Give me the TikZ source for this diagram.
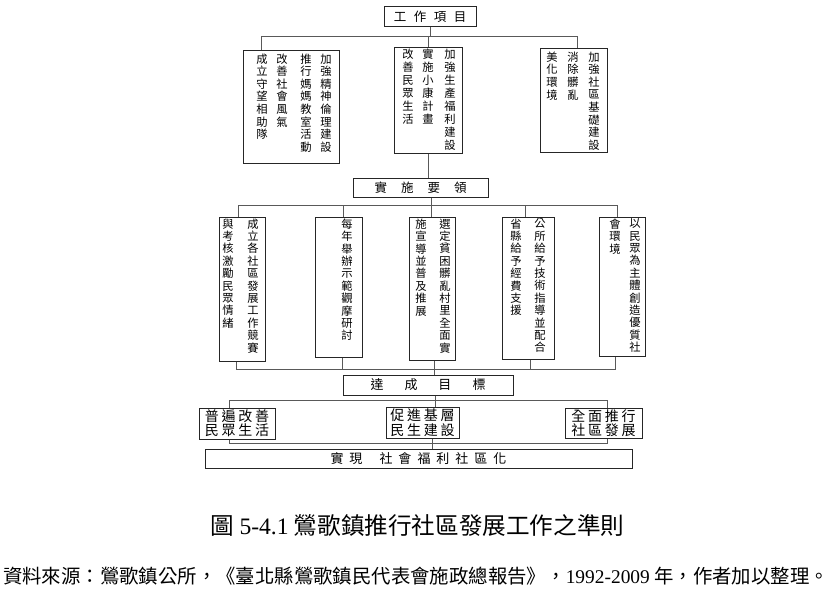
\documentclass[tikz,border=0pt]{standalone}
\usepackage{fontspec}
\setmainfont{Noto Sans CJK TC}
\newfontfamily\tnr{Liberation Serif}
\XeTeXlinebreaklocale "zh"
\XeTeXlinebreakskip=0pt plus 1pt
\usetikzlibrary{positioning}

\tikzset{
	box/.style={draw=black!85, line width=1pt, inner sep=0pt},
	link/.style={draw=black!65, line width=0.9pt},
	col/.style={anchor=north, inner sep=0pt, text width=14pt, align=center, font=\fontsize{11.3}{12.6}\selectfont},
	colb/.style={col, font=\fontsize{11.3}{12.4}\selectfont},
	pair/.style={box, align=left, font=\fontsize{14}{14.5}\selectfont\addfontfeature{LetterSpace=20}}
}

\begin{document}
\begin{tikzpicture}[x=1pt, y=-1pt]
	\useasboundingbox (0,0) rectangle (832,591);

	\node[box, minimum width=92, minimum height=20, font=\fontsize{12.5}{14}\selectfont] (top) at (430,17) {工\hspace{7.5pt}作\hspace{7.5pt}項\hspace{7.5pt}目};

	%% work items
	\node[box, minimum width=96, minimum height=112] (w1) at (291,107) {};
	\node[col] (w1c4) at (326,53.5) {加強精神倫理建設};
	\node[col] (w1c3) at (306,53.5) {推行媽媽教室活動};
	\node[col] (w1c2) at (282,53.5) {改善社會風氣};
	\node[col] (w1c1) at (262,53.5) {成立守望相助隊};

	\node[box, minimum width=68, minimum height=105] (w2) at (428,100.5) {};
	\node[col, font=\fontsize{11.3}{13}\selectfont] (w2c3) at (450,48.8) {加強生產福利建設};
	\node[col, font=\fontsize{11.3}{13}\selectfont] (w2c2) at (428,48.8) {實施小康計畫};
	\node[col, font=\fontsize{11.3}{13}\selectfont] (w2c1) at (408,48.8) {改善民眾生活};

	\node[box, minimum width=67, minimum height=103] (w3) at (573.5,100.5) {};
	\node[col] (w3c3) at (594,51.5) {加強社區基礎建設};
	\node[col] (w3c2) at (573,51.5) {消除髒亂};
	\node[col] (w3c1) at (552,51.5) {美化環境};

	\node[box, minimum width=135, minimum height=19, font=\fontsize{12.5}{14}\selectfont] (plan) at (420.5,187.5) {實\hspace{14pt}施\hspace{14pt}要\hspace{14pt}領};

	%% main points
	\node[box, minimum width=46, minimum height=144] (u1) at (242,289) {};
	\node[colb] (u1c2) at (253,218.5) {成立各社區發展工作競賽};
	\node[colb] (u1c1) at (228,218.5) {與考核激勵民眾情緒};

	\node[box, minimum width=47, minimum height=140] (u2) at (338.5,287) {};
	\node[colb] (u2c1) at (347,218.5) {每年舉辦示範觀摩研討};

	\node[box, minimum width=46, minimum height=143] (u3) at (432,288.5) {};
	\node[colb] (u3c2) at (445,218.5) {選定貧困髒亂村里全面實};
	\node[colb] (u3c1) at (421,218.5) {施宣導並普及推展};

	\node[box, minimum width=52, minimum height=142] (u4) at (528,288) {};
	\node[colb] (u4c2) at (540,218.5) {公所給予技術指導並配合};
	\node[colb] (u4c1) at (516,218.5) {省縣給予經費支援};

	\node[box, minimum width=46, minimum height=139] (u5) at (622,286.5) {};
	\node[colb] (u5c2) at (635,218.5) {以民眾為主體創造優質社};
	\node[colb] (u5c1) at (615,218.5) {會環境};

	\node[box, minimum width=170, minimum height=20, font=\fontsize{13}{15}\selectfont] (goal) at (428,385) {達\hspace{21pt}成\hspace{21pt}目\hspace{21pt}標};

	%% goals
	\node[pair, minimum width=76, minimum height=31] (g1) at (237,423.5) {普遍改善\\民眾生活};
	\node[pair, minimum width=73, minimum height=31] (g2) at (422.5,422.5) {促進基層\\民生建設};
	\node[pair, minimum width=77, minimum height=30] (g3) at (603.5,423) {全面推行\\社區發展};

	\node[box, minimum width=427, minimum height=19, font=\fontsize{13}{15}\selectfont] (final) at (418.5,458.5) {實\hspace{6pt}現\hspace{17pt}社\hspace{6pt}會\hspace{6pt}福\hspace{6pt}利\hspace{6pt}社\hspace{6pt}區\hspace{6pt}化};

	%% connectors
	\coordinate (a1) at (261,36);
	\coordinate (a2) at (428,36);
	\coordinate (a3) at (577,36);
	\draw[link] (top.south) -- (top.south |- a1);
	\draw[link] (a1 |- w1.north) -- (a1) -- (a3) -- (a3 |- w3.north);
	\draw[link] (a2) -- (a2 |- w2.north);
	\draw[link] (w2.south) -- (w2.south |- plan.north);

	\coordinate (b1) at (238,205);
	\coordinate (b2) at (343,205);
	\coordinate (b3) at (431,205);
	\coordinate (b4) at (525,205);
	\coordinate (b5) at (617,205);
	\draw[link] (b3 |- plan.south) -- (b3);
	\draw[link] (b1 |- u1.north) -- (b1) -- (b5) -- (b5 |- u5.north);
	\draw[link] (b2) -- (b2 |- u2.north);
	\draw[link] (b3) -- (b3 |- u3.north);
	\draw[link] (b4) -- (b4 |- u4.north);

	\coordinate (e1) at (236,369);
	\coordinate (e2) at (342,369);
	\coordinate (e3) at (434,369);
	\coordinate (e4) at (530,369);
	\coordinate (e5) at (615,369);
	\draw[link] (e1 |- u1.south) -- (e1) -- (e5) -- (e5 |- u5.south);
	\draw[link] (e2 |- u2.south) -- (e2);
	\draw[link] (e3 |- u3.south) -- (e3);
	\draw[link] (e4 |- u4.south) -- (e4);
	\draw[link] (e3) -- (e3 |- goal.north);

	\coordinate (f1) at (229,400);
	\coordinate (f2) at (435,400);
	\coordinate (f3) at (607,400);
	\draw[link] (f2 |- goal.south) -- (f2);
	\draw[link] (f1 |- g1.north) -- (f1) -- (f3) -- (f3 |- g3.north);
	\draw[link] (f2) -- (f2 |- g2.north);

	\coordinate (h1) at (229,443);
	\coordinate (h2) at (432,443);
	\coordinate (h3) at (607,443);
	\draw[link] (h1 |- g1.south) -- (h1) -- (h3) -- (h3 |- g3.south);
	\draw[link] (h2 |- g2.south) -- (h2 |- final.north);

	\node[font=\fontsize{23.6}{26}\selectfont] (cap) at (417.5,526) {圖 {\tnr 5-4.1} 鶯歌鎮推行社區發展工作之準則};
	\node[font=\fontsize{19.4}{22}\selectfont] (src) at (416,576) {資料來源：鶯歌鎮公所，《臺北縣鶯歌鎮民代表會施政總報告》，{\tnr 1992-2009} 年，作者加以整理。};
\end{tikzpicture}
\end{document}
